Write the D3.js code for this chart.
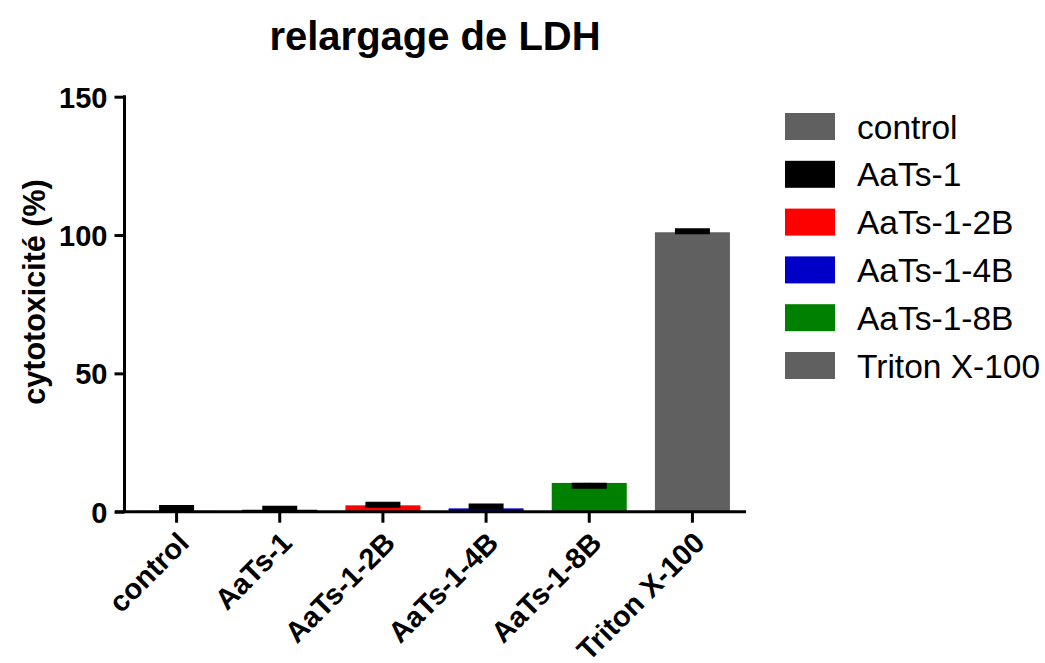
<!DOCTYPE html>
<html>
<head>
<meta charset="utf-8">
<script src="https://cdn.jsdelivr.net/npm/d3@7"></script>
<style>
  html, body { margin: 0; padding: 0; background: #fff; }
  svg text { font-family: "Liberation Sans", Arial, sans-serif; fill: #000; }
</style>
</head>
<body>
<svg id="chart" width="1045" height="663"></svg>
<script>
// LDH release assay: mean cytotoxicity per treatment with SD
const categories = ["control", "AaTs-1", "AaTs-1-2B", "AaTs-1-4B", "AaTs-1-8B", "Triton X-100"];
const meanValues = [0.3, 0.7, 2.3, 1.2, 10.4, 101.0];
const sdValues   = [1.0, 0.4, 0.2, 0.7, -1.0, 0.4];
const barColors  = ["#606060", "#000000", "#ff0000", "#0000c8", "#008000", "#606060"];
const yTicks     = [0, 50, 100, 150];

const svg = d3.select("#chart");

const x = d3.scaleBand()
  .domain(categories)
  .range([125, 744])
  .paddingInner(0.273)
  .paddingOuter(0.1365);

const y = d3.scaleLinear()
  .domain([0, 150])
  .range([511.7, 96.7]);

const rows = categories.map((c, i) => ({ name: c, mean: meanValues[i], sd: sdValues[i], color: barColors[i] }));

// bars
svg.append("g").selectAll("rect")
  .data(rows)
  .join("rect")
  .attr("x", d => x(d.name))
  .attr("width", x.bandwidth())
  .attr("y", d => y(d.mean))
  .attr("height", d => y(0) - y(d.mean))
  .attr("fill", d => d.color);

// error bars (stem + thick cap)
const capW = 35;
const eb = svg.append("g");
eb.selectAll("line.stem")
  .data(rows)
  .join("line")
  .attr("class", "stem")
  .attr("x1", d => x(d.name) + x.bandwidth() / 2)
  .attr("x2", d => x(d.name) + x.bandwidth() / 2)
  .attr("y1", d => y(d.mean))
  .attr("y2", d => y(d.mean + d.sd))
  .attr("stroke", "#000")
  .attr("stroke-width", 3);
eb.selectAll("line.cap")
  .data(rows)
  .join("line")
  .attr("class", "cap")
  .attr("x1", d => x(d.name) + x.bandwidth() / 2 - capW / 2)
  .attr("x2", d => x(d.name) + x.bandwidth() / 2 + capW / 2)
  .attr("y1", d => y(d.mean + d.sd))
  .attr("y2", d => y(d.mean + d.sd))
  .attr("stroke", "#000")
  .attr("stroke-width", 6);

// y axis
const yAxis = svg.append("g")
  .attr("transform", "translate(124.5,0)")
  .call(d3.axisLeft(y).tickValues(yTicks).tickSize(10).tickPadding(7).tickFormat(d3.format("d")));
yAxis.select(".domain").attr("stroke", "#000").attr("stroke-width", 3)
  .attr("d", `M0,${y(150) - 1.5}V${y(0)}`);
yAxis.selectAll(".tick line").attr("stroke", "#000").attr("stroke-width", 3);
yAxis.selectAll(".tick text")
  .style("font-size", "29px").style("font-weight", "bold")
  .attr("dy", "0.36em");

// x axis
const xAxis = svg.append("g")
  .attr("transform", `translate(0,${y(0)})`)
  .call(d3.axisBottom(x).tickSize(11).tickPadding(0));
xAxis.select(".domain").attr("stroke", "#000").attr("stroke-width", 3)
  .attr("d", "M115,0H746");
xAxis.selectAll(".tick line").attr("stroke", "#000").attr("stroke-width", 3);
xAxis.selectAll(".tick text")
  .style("font-size", "29px").style("font-weight", "bold")
  .attr("text-anchor", "end")
  .attr("y", 0)
  .attr("dy", 0)
  .attr("transform", "translate(14,33) rotate(-45)");

// y-axis title
svg.append("text")
  .attr("transform", "translate(45,292) rotate(-90)")
  .attr("text-anchor", "middle")
  .style("font-size", "30.5px").style("font-weight", "bold")
  .text("cytotoxicité (%)");

// chart title
svg.append("text")
  .attr("x", 435).attr("y", 50)
  .attr("text-anchor", "middle")
  .style("font-size", "40px").style("font-weight", "bold")
  .text("relargage de LDH");

// legend
const legend = svg.append("g").attr("transform", "translate(785,113)");
const items = legend.selectAll("g")
  .data(rows)
  .join("g")
  .attr("transform", (d, i) => `translate(0,${i * 47.8})`);
items.append("rect")
  .attr("width", 50).attr("height", 27)
  .attr("fill", d => d.color);
items.append("text")
  .attr("x", 72).attr("y", 13.5).attr("dy", "0.36em")
  .style("font-size", "33.5px")
  .text(d => d.name);
</script>
</body>
</html>
